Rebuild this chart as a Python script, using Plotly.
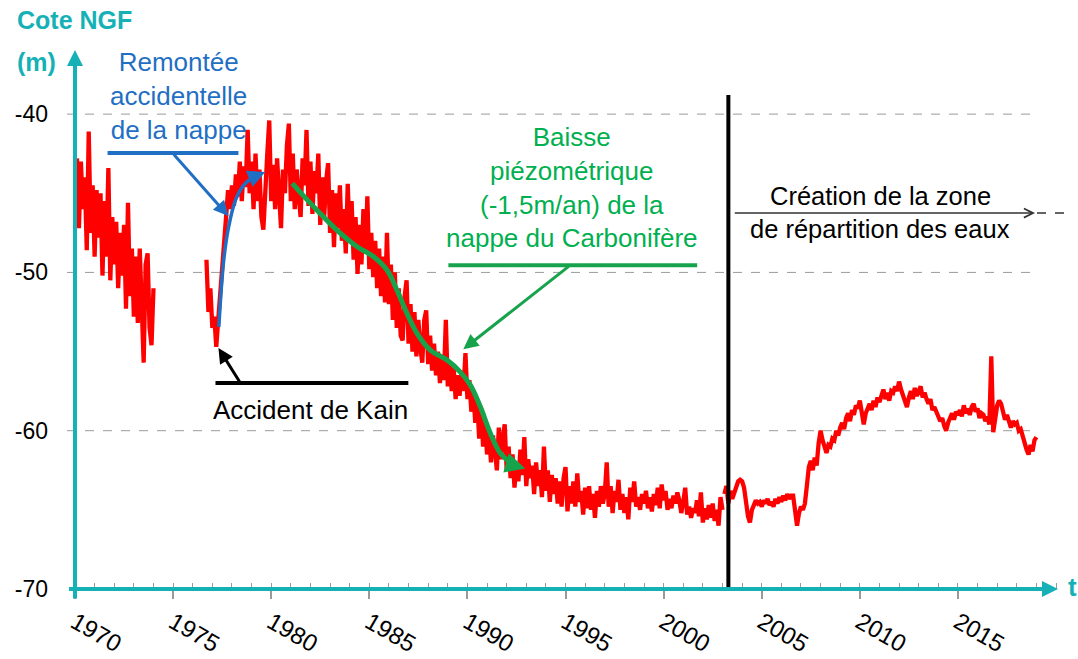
import numpy as np
import plotly.graph_objects as go

# ---- Piezometric level (m NGF), one reading every 0.1 year ----
STEP = 0.1

seg1_start = 1970.1
seg1_level = [
    -42.8, -47.2, -43.0, -46.0, -44.0, -48.6, -41.1, -47.5, -44.5,
    -49.0, -44.8, -47.8, -45.0, -50.2, -45.5, -49.0, -43.4, -50.5, -46.5,
    -49.5, -46.8, -51.0, -47.5, -50.2, -47.0, -52.3, -45.6, -51.5, -48.5,
    -52.8, -49.0, -53.2, -48.5, -52.0, -55.7, -49.5, -48.8, -53.5, -54.6,
    -51.0,
]

seg2_start = 1976.7
seg2_level = [
    -49.2, -52.5, -51.0,
    -53.5, -52.8, -54.7, -53.0, -51.5, -49.5, -48.8, -46.5, -44.8, -46.0,
    -44.5, -45.8, -43.8, -45.2, -43.0, -45.5, -43.3, -44.6, -41.0, -45.0,
    -43.0, -46.0, -42.5, -45.5, -43.5, -46.5, -47.3, -44.0, -42.5, -40.4,
    -45.5, -43.2, -46.0, -42.8, -45.8, -47.2, -43.5, -45.0, -42.0, -40.6,
    -45.5, -42.5, -46.0, -43.5, -45.2, -46.5, -42.8, -44.5, -41.0, -45.8,
    -43.0, -46.3, -43.6, -45.0, -42.5, -47.0, -44.0, -46.5, -44.2, -43.1,
    -47.5, -44.8, -48.4, -45.0, -47.2, -44.5, -48.0, -46.0, -48.8, -44.4,
    -48.0, -45.5, -49.2, -46.5, -50.1, -47.0, -49.5, -46.0, -48.8, -45.2,
    -49.8, -47.5, -50.3, -48.0, -51.0, -48.5, -51.5, -49.0, -51.9, -47.5,
    -52.0, -49.5, -53.0, -50.0, -53.5, -51.0, -54.0, -54.3, -51.5, -50.5,
    -54.5, -52.0, -55.0, -52.5, -55.3, -53.0, -54.8, -55.7, -53.0, -52.4,
    -55.8, -54.0, -56.2, -54.5, -56.5, -55.0, -57.0, -55.2, -56.8, -53.0,
    -57.2, -55.8, -57.5, -56.0, -58.0, -56.5, -57.8, -56.2, -57.5, -55.1,
    -58.0, -56.8, -58.8, -57.5, -59.5, -58.2, -60.5, -58.8, -61.0, -59.5,
    -61.5, -60.0, -62.0, -60.3, -61.2, -62.5, -59.8, -61.8, -60.5, -59.6,
    -62.5, -61.0, -63.0, -61.5, -63.6, -62.0, -63.2, -61.2, -62.8, -60.4,
    -63.5, -61.8, -63.0, -62.2, -64.0, -62.0, -63.5, -62.5, -64.2, -61.0,
    -63.8, -62.5, -64.5, -62.8, -64.0, -63.0, -64.6, -63.2, -64.8, -63.0,
    -62.3, -65.1, -63.5, -64.6, -63.2, -64.8, -62.7, -64.5, -63.8, -65.3,
    -63.6, -64.9, -63.5, -65.0, -64.0, -65.5, -63.8, -64.8, -63.5, -64.6,
    -64.0, -62.0, -64.8, -63.5, -65.2, -63.8, -64.5, -63.1, -65.0, -64.0,
    -65.2, -64.2, -65.6, -63.6, -64.5, -63.2, -64.8, -64.2, -65.0, -64.0,
    -64.6, -63.8, -64.9, -64.2, -65.1, -64.0, -64.7, -63.6, -64.9, -63.4,
    -64.4, -63.8, -65.0, -64.3, -64.9, -64.1, -64.6, -63.9, -64.4, -65.2,
    -64.5, -63.6, -65.3, -64.8, -65.5, -64.9, -65.2, -64.4, -65.4, -63.9,
    -65.8, -64.9, -65.6, -64.7, -65.5, -64.6, -65.7, -65.0, -66.0, -64.2,
    -65.0,
]

seg3_start = 2003.1
seg3_level = [
    -64.0, -63.5, -64.6, -63.8, -64.3, -63.9, -63.6, -63.2, -63.1,
    -63.2, -63.6, -64.5, -65.4, -65.8, -65.0, -64.7, -64.4, -64.6, -64.5,
    -64.8, -64.4, -64.6, -64.3, -64.7, -64.5, -64.8, -64.3, -64.6, -64.2,
    -64.5, -64.1, -64.4, -64.0, -64.3, -64.1, -64.1, -64.9, -66.0, -65.2,
    -64.8, -65.0, -64.6, -63.5, -62.3, -61.9, -62.5, -61.7, -62.2, -60.8,
    -60.0, -60.6, -61.1, -61.4, -60.9, -61.0, -60.5, -60.6, -60.0, -60.3,
    -59.8, -59.5, -59.9, -59.2, -58.9, -59.4, -58.7, -59.0, -58.4, -58.6,
    -58.1, -58.8, -59.6, -58.9, -58.6, -58.3, -58.7, -58.1, -58.5, -57.9,
    -58.2, -57.7, -57.4, -58.0, -57.6, -58.1, -57.5, -57.6, -57.2, -57.5,
    -56.9, -57.4, -57.8, -58.2, -58.5, -57.9, -57.5, -58.0, -57.3, -57.8,
    -57.4, -57.2, -57.9, -57.6, -58.0, -58.3, -58.0, -58.7, -58.5, -58.9,
    -59.1, -59.4, -59.2, -59.7, -60.0, -59.5, -59.1, -58.9, -59.3, -58.8,
    -59.0, -58.7, -59.1, -58.4, -58.9, -58.6, -59.0, -58.5, -58.3, -58.8,
    -58.6, -59.2, -58.9, -59.0, -59.4, -59.1, -59.6, -55.3, -60.1, -59.2,
    -58.4, -58.1, -58.3, -58.8, -59.3, -59.0, -59.5, -59.8, -59.4, -59.6,
    -59.5, -60.0, -59.9, -60.4, -60.8, -61.2, -61.5, -60.9, -61.3, -60.6,
    -60.4,
]

# Sketched trend curves (year, level)
rise_year = [1977.33, 1977.58, 1977.83, 1978.18, 1978.60, 1979.11, 1979.70]
rise_level = [-53.44, -49.22, -47.12, -45.43, -44.49, -43.96, -43.65]

decline_year = [1981.07, 1982.17, 1983.53, 1984.38, 1985.22, 1985.90, 1986.41,
                1986.92, 1987.43, 1988.11, 1988.96, 1989.64, 1990.15, 1990.66,
                1991.17, 1991.68, 1992.35, 1992.95]
decline_level = [-44.38, -45.86, -47.54, -48.38, -49.01, -49.85, -51.12,
                 -52.59, -53.85, -54.91, -55.54, -56.30, -57.12, -58.49,
                 -60.17, -61.43, -62.17, -62.38]

zre_year = 2003.3          # creation of the water distribution zone
year_ticks = [1970, 1975, 1980, 1985, 1990, 1995, 2000, 2005, 2010, 2015]
level_ticks = [-70, -60, -50, -40]

# ---- styling ----
TEAL = "#16b1b7"
RED = "#ff0000"
BLUE = "#1f6fc4"
GREEN_TXT = "#00b050"
GREEN = "#17a24c"
GRID = "#9a9a9a"
REG = "Liberation Sans, Arial, sans-serif"

X0, X1 = 1970.0, 2020.1
Y0, Y1 = -70.0, -35.95
L, R, T, B = 75, 20, 50, 70
W, H = 1078, 659
PW, PH = W - L - R, H - T - B


def px_x(px):
    return (px - L) / PW


def px_y(py):
    return (H - B - py) / PH


def series(start, values):
    return [start + STEP * i for i in range(len(values))]


xs, ys = [], []
for start, vals in [(seg1_start, seg1_level), (seg2_start, seg2_level),
                    (seg3_start, seg3_level)]:
    xs += series(start, vals) + [None]
    ys += list(vals) + [None]

fig = go.Figure()

# horizontal dashed reference lines
for lv in level_ticks[1:]:
    fig.add_shape(type="line", xref="paper", yref="y", x0=px_x(67), x1=px_x(1035),
                  y0=lv, y1=lv, line=dict(color=GRID, width=1, dash="dash"),
                  layer="below")

fig.add_trace(go.Scatter(x=xs, y=ys, mode="lines", connectgaps=False,
                         line=dict(color=RED, width=4.3), hoverinfo="skip"))

fig.add_trace(go.Scatter(x=rise_year[:-1], y=rise_level[:-1], mode="lines",
                         line=dict(color=BLUE, width=3.5, shape="spline"),
                         hoverinfo="skip"))
fig.add_trace(go.Scatter(x=decline_year[:-1], y=decline_level[:-1], mode="lines",
                         line=dict(color=GREEN, width=5, shape="spline"),
                         hoverinfo="skip"))


def arrow(x0, y0, x1, y1, color, width, head=2, size=1.0):
    fig.add_annotation(x=x1, y=y1, ax=x0, ay=y0, xref="x", yref="y",
                       axref="x", ayref="y", text="", showarrow=True,
                       arrowhead=head, arrowsize=size, arrowwidth=width,
                       arrowcolor=color, standoff=0, startstandoff=0)


# arrowheads closing the trend curves
arrow(rise_year[-2], rise_level[-2], rise_year[-1], rise_level[-1], BLUE, 3.5, 2, 1.0)
arrow(decline_year[-2], decline_level[-2], decline_year[-1], decline_level[-1],
      GREEN, 4, 2, 1.0)

# axes with arrows
arrow(1970.0, -70.7, 1970.0, Y1, TEAL, 4, 2, 0.8)
arrow(1969.62, -70.0, X1, -70.0, TEAL, 4, 2, 0.8)

# vertical marker of the zone creation
fig.add_shape(type="line", x0=zre_year, x1=zre_year, y0=-38.8, y1=-70.0,
              line=dict(color="black", width=4))

# callout: rise of the water table
fig.add_shape(type="line", x0=1971.66, x1=1978.33, y0=-42.46, y1=-42.46,
              line=dict(color=BLUE, width=4))
arrow(1974.97, -42.46, 1977.82, -46.44, BLUE, 3, 2, 1.0)
fig.add_annotation(x=1975.27, y=-38.86, text="Remontée<br>accidentelle<br>de la nappe",
                   showarrow=False, xanchor="center", yanchor="middle",
                   font=dict(family=REG, size=26, color=BLUE))

# callout: Kain accident
fig.add_shape(type="line", x0=1977.16, x1=1986.99, y0=-56.99, y1=-56.99,
              line=dict(color="black", width=4))
arrow(1978.43, -56.99, 1977.31, -54.78, "black", 3, 2, 1.0)
fig.add_annotation(x=1982.02, y=-58.7, text="Accident de Kain", showarrow=False,
                   xanchor="center", yanchor="middle",
                   font=dict(family=REG, size=26, color="black"))

# callout: piezometric decline
fig.add_shape(type="line", x0=1989.03, x1=2001.71, y0=-49.54, y1=-49.54,
              line=dict(color=GREEN, width=4))
arrow(1995.24, -49.54, 1989.79, -54.85, GREEN, 3, 2, 1.0)
fig.add_annotation(x=1995.34, y=-44.64,
                   text="Baisse<br>piézométrique<br>(-1,5m/an) de la<br>nappe du Carbonifère",
                   showarrow=False, xanchor="center", yanchor="middle",
                   font=dict(family=REG, size=26, color=GREEN_TXT))

# zone creation arrow and label
arrow(2003.55, -46.25, 2018.93, -46.25, "#333333", 1.5, 5, 1.2)
fig.add_shape(type="line", xref="paper", yref="y", x0=px_x(1037), x1=px_x(1068),
              y0=-46.25, y1=-46.25, line=dict(color="#333333", width=1.5, dash="dash"))
fig.add_annotation(x=2011.03, y=-45.18, text="Création de la zone", showarrow=False,
                   xanchor="center", yanchor="middle",
                   font=dict(family=REG, size=25.5, color="black"))
fig.add_annotation(x=2011.03, y=-47.26, text="de répartition des eaux", showarrow=False,
                   xanchor="center", yanchor="middle",
                   font=dict(family=REG, size=25.5, color="black"))

# axis titles
fig.add_annotation(xref="paper", yref="paper", x=px_x(15), y=px_y(20),
                   text="<b>Cote NGF</b>", showarrow=False, xanchor="left",
                   yanchor="middle", font=dict(family=REG, size=25, color=TEAL))
fig.add_annotation(xref="paper", yref="paper", x=px_x(15), y=px_y(62),
                   text="<b>(m)</b>", showarrow=False, xanchor="left",
                   yanchor="middle", font=dict(family=REG, size=25, color=TEAL))
fig.add_annotation(xref="paper", yref="paper", x=px_x(1066), y=px_y(587),
                   text="<b>t</b>", showarrow=False, xanchor="left",
                   yanchor="middle", font=dict(family=REG, size=26, color=TEAL))

fig.update_layout(
    width=W, height=H,
    margin=dict(l=L, r=R, t=T, b=B, pad=0, autoexpand=False),
    paper_bgcolor="white", plot_bgcolor="white",
    showlegend=False,
    xaxis=dict(range=[X0, X1], showgrid=False, zeroline=False, showline=False,
               automargin=False,
               tickmode="array", tickvals=year_ticks,
               ticktext=[str(v) for v in year_ticks],
               ticks="outside", ticklen=9, tickwidth=1.5, tickcolor=GRID,
               tickangle=30,
               tickfont=dict(family=REG, size=24, color="black"),
               minor=dict(dtick=1, ticks="inside", ticklen=6, tickwidth=1,
                          tickcolor=GRID, showgrid=False)),
    yaxis=dict(range=[Y0, Y1], showgrid=False, zeroline=False, showline=False,
               automargin=False,
               tickmode="array", tickvals=level_ticks,
               ticktext=[str(v) for v in level_ticks],
               ticks="", ticklabelstandoff=26,
               tickfont=dict(family=REG, size=23, color="black")),
)

fig.write_html("out.html")
